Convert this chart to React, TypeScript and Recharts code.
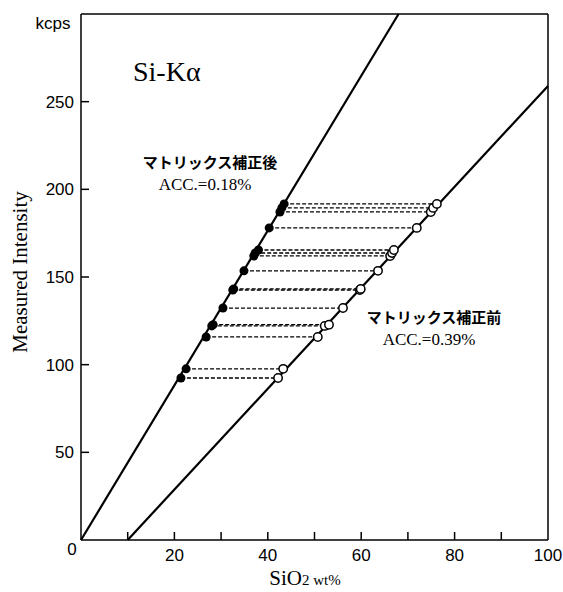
import React from "react";
import { ScatterChart, Scatter, XAxis, YAxis, ReferenceLine } from "recharts";

// measured intensity (kcps) of each standard
const intensity = [92.4, 97.6, 115.8, 122.1, 122.8, 132.3, 142.6, 143.2, 153.5, 162.0, 163.7, 165.4, 178.0, 187.1, 189.4, 191.7];
// SiO2 wt% after matrix correction (filled)
const afterX = [21.4, 22.5, 26.8, 28.0, 28.3, 30.4, 32.5, 32.7, 34.9, 37.0, 37.3, 38.0, 40.3, 42.6, 43.0, 43.5];
// SiO2 wt% before matrix correction (open)
const beforeX = [42.2, 43.3, 50.7, 52.2, 53.1, 56.1, 59.7, 59.9, 63.6, 66.2, 66.6, 67.0, 71.9, 74.9, 75.4, 76.2];

// calibration lines
const fitAfter = [{ x: 0, y: 0 }, { x: 68, y: 300 }];
const fitBefore = [{ x: 10, y: 0 }, { x: 100, y: 259 }];

const xTicks = [0, 10, 20, 30, 40, 50, 60, 70, 80, 90, 100];
const yTicks = [0, 50, 100, 150, 200, 250];

const afterPts = intensity.map((y, i) => ({ x: afterX[i], y }));
const beforePts = intensity.map((y, i) => ({ x: beforeX[i], y }));
const links = intensity.map((y, i) => [
  { x: afterX[i], y },
  { x: beforeX[i], y },
]);

const SANS = "'Liberation Sans', Arial, sans-serif";
const SERIF = "'Liberation Serif', 'Times New Roman', serif";
const CJK = "'Noto Sans CJK JP', sans-serif";

const XTick = (props: any) => {
  const { x, y, payload } = props;
  const v = payload.value;
  return (
    <g>
      {v > 0 && v < 100 && <line x1={x} y1={y} x2={x} y2={y - 8} stroke="#000" strokeWidth={1.5} />}
      {v > 0 && v % 20 === 0 && (
        <text x={x} y={y + 21} textAnchor="middle" fontSize={17} fontFamily={SANS} fill="#000">
          {v}
        </text>
      )}
    </g>
  );
};

const YTick = (props: any) => {
  const { x, y, payload } = props;
  const v = payload.value;
  if (v === 0) {
    return (
      <text x={x - 9} y={y + 15} textAnchor="middle" fontSize={17} fontFamily={SANS} fill="#000">
        0
      </text>
    );
  }
  return (
    <g>
      <line x1={x} y1={y} x2={x + 8} y2={y} stroke="#000" strokeWidth={1.5} />
      <text x={x - 7} y={y + 6} textAnchor="end" fontSize={17} fontFamily={SANS} fill="#000">
        {v}
      </text>
    </g>
  );
};

const none = () => <g />;

export default function App() {
  return (
    <div style={{ position: "absolute", left: 0, top: 0, background: "#fff" }}>
      <ScatterChart width={563} height={592} margin={{ top: 14, right: 15, left: 0, bottom: 0 }}>
        <XAxis
          type="number"
          dataKey="x"
          domain={[0, 100]}
          ticks={xTicks}
          height={52}
          tickSize={0}
          tickMargin={0}
          tick={<XTick />}
          axisLine={{ stroke: "#000", strokeWidth: 1.5 }}
          interval={0}
        />
        <YAxis
          type="number"
          dataKey="y"
          domain={[0, 300]}
          ticks={yTicks}
          width={81}
          tickSize={0}
          tickMargin={0}
          tick={<YTick />}
          axisLine={{ stroke: "#000", strokeWidth: 1.5 }}
          interval={0}
        />
        <ReferenceLine y={300} stroke="#000" strokeWidth={1.5} />
        <ReferenceLine x={100} stroke="#000" strokeWidth={1.5} />

        <Scatter data={fitAfter} line={{ stroke: "#000", strokeWidth: 2.2 }} shape={none} isAnimationActive={false} />
        <Scatter data={fitBefore} line={{ stroke: "#000", strokeWidth: 2.2 }} shape={none} isAnimationActive={false} />

        {links.map((d, i) => (
          <Scatter
            key={`link-${i}`}
            data={d}
            line={{ stroke: "#000", strokeWidth: 1.3, strokeDasharray: "4 2" }}
            shape={none}
            isAnimationActive={false}
          />
        ))}

        <Scatter
          data={afterPts}
          isAnimationActive={false}
          shape={(p: any) => <circle cx={p.cx} cy={p.cy} r={4.5} fill="#000" />}
        />
        <Scatter
          data={beforePts}
          isAnimationActive={false}
          shape={(p: any) => <circle cx={p.cx} cy={p.cy} r={4.2} fill="#fff" stroke="#000" strokeWidth={1.5} />}
        />

        <text x={53} y={29} textAnchor="middle" fontSize={17} fontFamily={SANS} fill="#000">kcps</text>
        <text x={133} y={81} fontSize={28} fontFamily={SERIF} fill="#000">Si-Kα</text>
        <text x={210} y={168} textAnchor="middle" fontSize={15} fontWeight="bold" fontFamily={CJK} fill="#000">
          マトリックス補正後
        </text>
        <text x={205} y={190} textAnchor="middle" fontSize={17} fontFamily={SERIF} fill="#000">ACC.=0.18%</text>
        <text x={434} y={323} textAnchor="middle" fontSize={15} fontWeight="bold" fontFamily={CJK} fill="#000">
          マトリックス補正前
        </text>
        <text x={429} y={345} textAnchor="middle" fontSize={17} fontFamily={SERIF} fill="#000">ACC.=0.39%</text>
        <text
          transform="translate(27, 272) rotate(-90)"
          textAnchor="middle"
          fontSize={21}
          fontFamily={SERIF}
          fill="#000"
        >
          Measured Intensity
        </text>
        <text x={305} y={585} textAnchor="middle" fontFamily={SERIF} fill="#000">
          <tspan fontSize={21}>SiO</tspan>
          <tspan fontSize={15}>2 wt%</tspan>
        </text>
      </ScatterChart>
    </div>
  );
}
